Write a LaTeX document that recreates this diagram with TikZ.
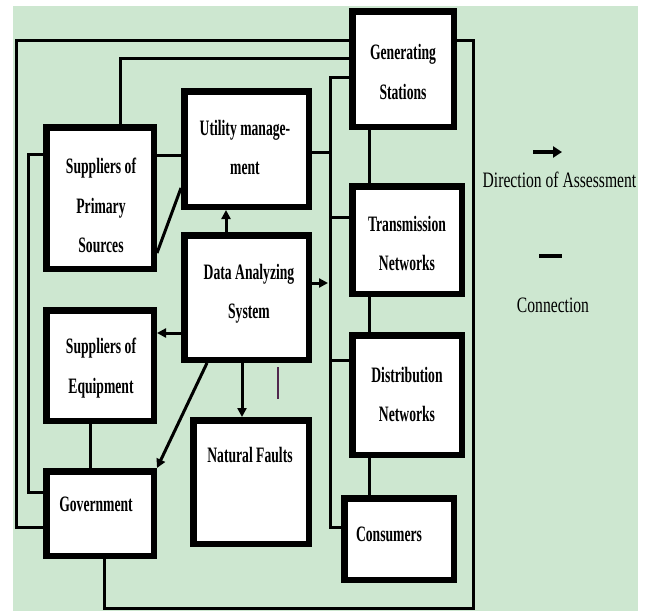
\documentclass[tikz,border=0pt]{standalone}
\usepackage{fontspec}
\setmainfont{Liberation Serif}
\newfontfamily\boxfont[FakeStretch=0.62]{Liberation Serif}
\newfontfamily\keyfont[FakeStretch=0.71]{Liberation Serif}
\usetikzlibrary{arrows.meta}
\definecolor{panel}{RGB}{205,231,208}
\definecolor{stray}{RGB}{80,40,78}

\begin{document}
\begin{tikzpicture}[x=1pt,y=-1pt,
  box/.style={draw=black, line width=6.5pt, fill=white, rectangle, inner sep=0pt},
  boxtext/.style={anchor=north, inner sep=0pt, align=center,
    font=\boxfont\bfseries\fontsize{22}{39.5}\selectfont},
  link/.style={line width=3pt},
  flow/.style={line width=3pt, -{Triangle[length=9pt,width=9pt]}},
  keytext/.style={anchor=base, inner sep=0pt,
    font=\keyfont\fontsize{22}{26}\selectfont}]

\useasboundingbox (0,0) rectangle (648,611);
\fill[panel] (13,6) rectangle (638,611);

% ---- boxes
\node[box, minimum width=101.5pt, minimum height=115.5pt] (gs)  at (403,69)      {};
\node[box, minimum width=109.5pt, minimum height=107.5pt] (tn)  at (407,240)     {};
\node[box, minimum width=109.5pt, minimum height=119.5pt] (dn)  at (407,395)     {};
\node[box, minimum width=109.5pt, minimum height=81.5pt]  (con) at (399,539)     {};
\node[box, minimum width=124.5pt, minimum height=115.5pt] (um)  at (246.5,149)   {};
\node[box, minimum width=107.5pt, minimum height=141.5pt] (sps) at (100,198)     {};
\node[box, minimum width=124.5pt, minimum height=124.5pt] (das) at (246.5,297.5) {};
\node[box, minimum width=107.5pt, minimum height=110.5pt] (soe) at (100,365.5)   {};
\node[box, minimum width=107.5pt, minimum height=84.5pt]  (gov) at (100,513.5)   {};
\node[box, minimum width=115.5pt, minimum height=123.5pt] (nf)  at (251,482)     {};

% ---- box captions
\node[boxtext] (gst)  at (403,44.5) {Generating\\Stations};
\node[boxtext] (tnt)  at (407,216)  {Transmission\\Networks};
\node[boxtext] (dnt)  at (407,367)  {Distribution\\Networks};
\node[boxtext] (cont) at (389,527)  {Consumers};
\node[boxtext] (umt)  at (245,120)  {Utility manage-\\ment};
\node[boxtext] (spst) at (101,158)  {Suppliers of\\Primary\\Sources};
\node[boxtext] (dast) at (249,264)  {Data Analyzing\\System};
\node[boxtext] (soet) at (101,338)  {Suppliers of\\Equipment};
\node[boxtext] (govt) at (96,497)   {Government};
\node[boxtext] (nft)  at (250,447)  {Natural Faults};

% ---- routing points
\coordinate (l1) at (16,40);
\coordinate (l2) at (16,527.5);
\coordinate (t1) at (120,58);
\coordinate (k1) at (28,154);
\coordinate (k2) at (28,492);
\coordinate (b0) at (330,77);
\coordinate (b1) at (330,527);
\coordinate (bu) at (330,152);
\coordinate (bt) at (330,217);
\coordinate (bd) at (330,360);
\coordinate (ba) at (328,283);
\coordinate (r1) at (473,40);
\coordinate (r2) at (473,608.5);
\coordinate (r3) at (104,608.5);
\coordinate (cx) at (369,0);
\coordinate (sg) at (90,0);
\coordinate (h1) at (0,155);
\coordinate (d1) at (0,253);
\coordinate (d2) at (0,188);
\coordinate (au) at (226,0);
\coordinate (ae) at (0,333);
\coordinate (an) at (242,0);
\coordinate (dg) at (207,0);

% ---- connections
\draw[link] (gs.west |- l1) -- (l1) -- (l2) -- (gov.west |- l2);
\draw[link] (gs.west |- t1) -- (t1) -- (sps.north -| t1);
\draw[link] (sps.west |- k1) -- (k1) -- (k2) -- (gov.west |- k2);
\draw[link] (gs.west |- b0) -- (b0) -- (b1) -- (con.west |- b1);
\draw[link] (um.east |- bu) -- (bu);
\draw[link] (bt) -- (tn.west |- bt);
\draw[link] (bd) -- (dn.west |- bd);
\draw[link] (gs.east |- r1) -- (r1) -- (r2) -- (r3) -- (gov.south -| r3);
\draw[link] (gs.south -| cx) -- (tn.north -| cx);
\draw[link] (tn.south -| cx) -- (dn.north -| cx);
\draw[link] (dn.south -| cx) -- (con.north -| cx);
\draw[link] (soe.south -| sg) -- (gov.north -| sg);
\draw[link] (sps.east |- h1) -- (um.west |- h1);
\draw[link] (sps.east |- d1) -- (um.west |- d2);

% ---- directions of assessment
\draw[flow] (das.north -| au) -- (um.south -| au);
\draw[flow] (das.east |- ba) -- (ba);
\draw[flow] (das.west |- ae) -- (soe.east |- ae);
\draw[flow] (das.south -| an) -- (nf.north -| an);
\draw[flow] (das.south -| dg) -- (gov.north east);

% ---- short mark below the analysis box
\draw[stray, line width=1.6pt] (278,367) -- (278,399);

% ---- key
\coordinate (ka1) at (533,152);
\coordinate (ka2) at (562,152);
\coordinate (kc1) at (539,256);
\coordinate (kc2) at (562,256);
\draw[line width=4pt, -{Triangle[length=9pt,width=11pt]}] (ka1) -- (ka2);
\draw[line width=4pt] (kc1) -- (kc2);
\node[keytext] (kdir) at (559.5,187) {Direction of Assessment};
\node[keytext] (kcon) at (553,312) {Connection};
\end{tikzpicture}
\end{document}
